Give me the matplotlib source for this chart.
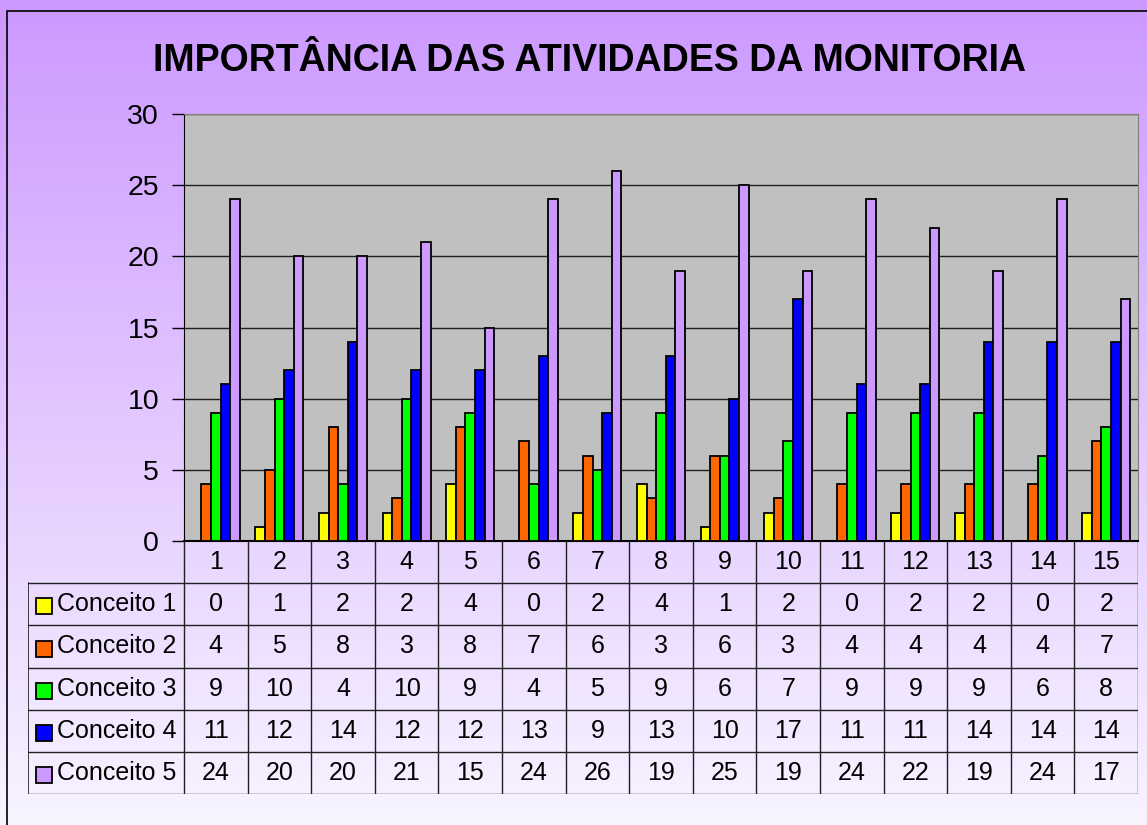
import matplotlib
matplotlib.use('Agg')
import matplotlib.pyplot as plt
from matplotlib.patches import Rectangle
import numpy as np

plt.rcParams['font.family'] = ['Liberation Sans', 'DejaVu Sans']

# data
atividades = list(range(1, 16))
series_names = ['Conceito 1', 'Conceito 2', 'Conceito 3', 'Conceito 4', 'Conceito 5']
conceito1 = [0, 1, 2, 2, 4, 0, 2, 4, 1, 2, 0, 2, 2, 0, 2]
conceito2 = [4, 5, 8, 3, 8, 7, 6, 3, 6, 3, 4, 4, 4, 4, 7]
conceito3 = [9, 10, 4, 10, 9, 4, 5, 9, 6, 7, 9, 9, 9, 6, 8]
conceito4 = [11, 12, 14, 12, 12, 13, 9, 13, 10, 17, 11, 11, 14, 14, 14]
conceito5 = [24, 20, 20, 21, 15, 24, 26, 19, 25, 19, 24, 22, 19, 24, 17]
y_ticks = [0, 5, 10, 15, 20, 25, 30]

series = [conceito1, conceito2, conceito3, conceito4, conceito5]
colors = ['#FFFF00', '#FF6600', '#00FF00', '#0000FF', '#CC99FF']

W, H = 1147, 825
fig = plt.figure(figsize=(W / 100, H / 100), dpi=100)

# gradient background
bg = fig.add_axes([0, 0, 1, 1], zorder=-10)
top = np.array([204, 153, 255]) / 255
bot = np.array([248, 244, 255]) / 255
t = np.linspace(0, 1, 256)[:, None]
grad = (top[None, :] * (1 - t) + bot[None, :] * t)[:, None, :]
bg.imshow(grad, extent=[0, 1, 0, 1], aspect='auto', transform=bg.transAxes)
bg.set_xlim(0, 1)
bg.set_ylim(0, 1)
bg.axis('off')
bg.add_patch(Rectangle((7 / W, -0.1), 1.2, 1 - 11 / H + 0.1, fill=False,
                       edgecolor='black', linewidth=1.2, transform=bg.transAxes))

fig.text(590 / W, 1 - 61 / H, 'IMPORTÂNCIA DAS ATIVIDADES DA MONITORIA',
         ha='center', va='center', fontsize=27, fontweight='bold')

# plot area
x0, x1 = 184, 1138
y_top, y_bot = 114, 541
ax = fig.add_axes([x0 / W, 1 - y_bot / H, (x1 - x0) / W, (y_bot - y_top) / H])
ax.set_facecolor('#C0C0C0')
x = np.array(atividades)
bw = 0.151
for i, (vals, c) in enumerate(zip(series, colors)):
    ax.bar(x + (i - 2) * bw, vals, width=bw, color=c, edgecolor='black',
           linewidth=1.3, zorder=3)
ax.set_xlim(0.5, 15.5)
ax.set_ylim(0, 30)
ax.set_yticks(y_ticks)
ax.set_xticks([])
ax.yaxis.grid(True, color='#202020', linewidth=1)
ax.set_axisbelow(True)
ax.tick_params(axis='y', labelsize=20.5, length=9, width=1, pad=9, direction='out')
for s in ['top', 'right']:
    ax.spines[s].set_color('#808080')
ax.spines['left'].set_color('black')
ax.spines['bottom'].set_color('black')
ax.spines['bottom'].set_linewidth(1.5)

# data table
t_left, t_bot = 28, 794
tx0 = 0.5 - (x0 - t_left) / ((x1 - x0) / 15)
tab = fig.add_axes([t_left / W, 1 - t_bot / H, (x1 - t_left) / W, (t_bot - y_bot) / H])
tab.set_xlim(tx0, 15.5)
tab.set_ylim(6, 0)
tab.axis('off')
lc = '#202020'
for k in range(16):
    tab.plot([k + 0.5, k + 0.5], [0, 6], color=lc, lw=1)
tab.plot([tx0, tx0], [1, 6], color=lc, lw=1.2)
for r in range(1, 7):
    tab.plot([tx0, 15.5], [r, r], color=lc, lw=1)
fs = 18
for k in atividades:
    tab.text(k, 0.5, str(k), ha='center', va='center', fontsize=fs)
for r, (name, vals, c) in enumerate(zip(series_names, series, colors), start=1):
    tab.plot(tx0 + 0.245, r + 0.55, marker='s', markersize=11, color=c,
             markeredgecolor='black', markeredgewidth=1.3)
    tab.text(tx0 + 0.46, r + 0.5, name, ha='left', va='center', fontsize=fs)
    for k, v in zip(atividades, vals):
        tab.text(k, r + 0.5, str(v), ha='center', va='center', fontsize=fs)

fig.savefig('out.png', dpi=100)
